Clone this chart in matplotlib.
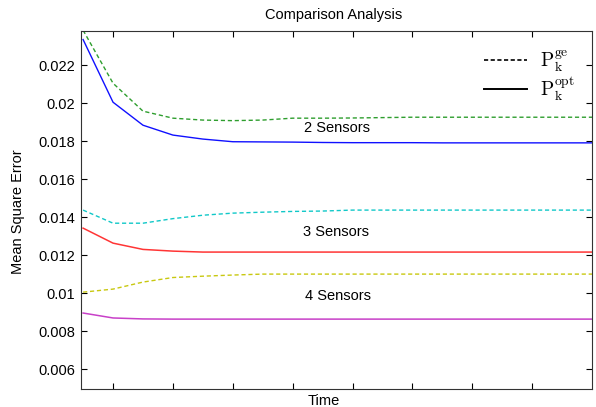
import numpy as np
from matplotlib import pyplot as plt

plt.rcParams['font.family'] = ['Liberation Sans', 'DejaVu Sans']
plt.rcParams['mathtext.fontset'] = 'cm'

# time samples
time = np.arange(1, 19)

# 2 sensors
ge_2 = [0.02384, 0.02105, 0.01958, 0.01921, 0.01911, 0.01908, 0.01911, 0.01921, 0.01921,
        0.01922, 0.01924, 0.01926, 0.01926, 0.01926, 0.01926, 0.01926, 0.01926, 0.01926]
opt_2 = [0.02335, 0.02005, 0.01884, 0.01832, 0.01811, 0.01797, 0.01796, 0.01795, 0.01793,
         0.01792, 0.01792, 0.01792, 0.01791, 0.01791, 0.01791, 0.01791, 0.01791, 0.01791]
# 3 sensors
ge_3 = [0.01437, 0.01368, 0.01368, 0.01392, 0.01410, 0.01421, 0.01426, 0.01430, 0.01432,
        0.01437, 0.01437, 0.01437, 0.01437, 0.01437, 0.01437, 0.01437, 0.01437, 0.01437]
opt_3 = [0.01342, 0.01263, 0.01230, 0.01221, 0.01216, 0.01216, 0.01216, 0.01216, 0.01216,
         0.01216, 0.01216, 0.01216, 0.01216, 0.01216, 0.01216, 0.01216, 0.01216, 0.01216]
# 4 sensors
ge_4 = [0.01005, 0.01021, 0.01058, 0.01082, 0.01089, 0.01095, 0.01100, 0.01100, 0.01100,
        0.01100, 0.01100, 0.01100, 0.01100, 0.01100, 0.01100, 0.01100, 0.01100, 0.01100]
opt_4 = [0.00895, 0.00869, 0.00864, 0.00863, 0.00863, 0.00863, 0.00863, 0.00863, 0.00863,
         0.00863, 0.00863, 0.00863, 0.00863, 0.00863, 0.00863, 0.00863, 0.00863, 0.00863]

ytick_vals = [0.006, 0.008, 0.010, 0.012, 0.014, 0.016, 0.018, 0.020, 0.022]
ytick_labels = ["0.006", "0.008", "0.01", "0.012", "0.014", "0.016", "0.018", "0.02", "0.022"]
xtick_vals = [2, 4, 6, 8, 10, 12, 14, 16]

fig = plt.figure(figsize=(5.96, 4.07), dpi=100)
ax = fig.add_axes([81/596, 1-389/407, 511/596, 358/407])

dash = (0, (3, 2))
ax.plot(time, ge_2, color='#2e9e2e', ls=dash, lw=1)
ax.plot(time, opt_2, color='#1010ff', lw=1)
ax.plot(time, ge_3, color='#10c8c8', ls=dash, lw=1)
ax.plot(time, opt_3, color='#ff3535', lw=1.1)
ax.plot(time, ge_4, color='#c8c810', ls=dash, lw=1)
ax.plot(time, opt_4, color='#c840c8', lw=1.1)

# legend entries in black
l1, = ax.plot([], [], color='black', ls=(0, (2.5, 1.5)), lw=1.2)
l2, = ax.plot([], [], color='black', lw=1.4)
ax.legend([l1, l2], [r'$\mathrm{P}_\mathrm{k}^\mathrm{ge}$', r'$\mathrm{P}_\mathrm{k}^\mathrm{opt}$'],
          loc='upper right', frameon=False, fontsize=14, handlelength=2.2,
          bbox_to_anchor=(1.0, 1.0), labelspacing=0.05, handletextpad=0.65)

ax.text(8.38, 0.01868, "2 Sensors", fontsize=10.5, va='center')
ax.text(8.35, 0.01321, "3 Sensors", fontsize=10.5, va='center')
ax.text(8.41, 0.00984, "4 Sensors", fontsize=10.5, va='center')

ax.set_xlim(0.93, 18)
ax.set_ylim(0.00495, 0.0238)
ax.set_xticks(xtick_vals)
ax.set_xticklabels([])
ax.set_yticks(ytick_vals)
ax.set_yticklabels(ytick_labels)
ax.tick_params(direction='in', length=4, top=True, right=True, labelsize=10.5, pad=4)
for s in ax.spines.values():
    s.set_color('#333333')

fig.text(334/596, 1-15/407, "Comparison Analysis", ha='center', va='center', fontsize=10.5)
fig.text(324/596, 1-401/407, "Time", ha='center', va='center', fontsize=10.5)
fig.text(18/596, 1-212/407, "Mean Square Error", ha='center', va='center', rotation=90, fontsize=10.5)

fig.savefig("out.png", dpi=100)
